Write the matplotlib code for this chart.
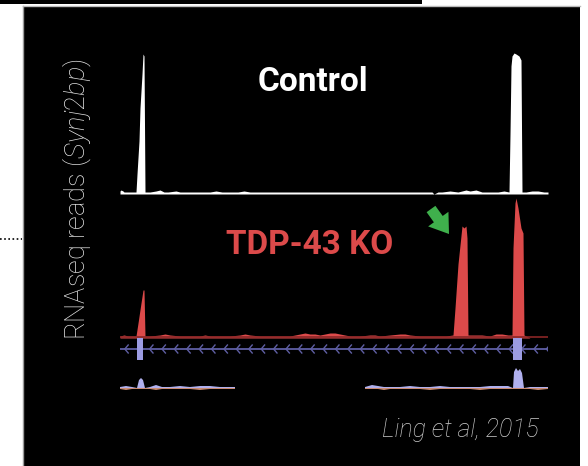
import numpy as np
import matplotlib
matplotlib.use('Agg')
import matplotlib.pyplot as plt
from matplotlib.patches import Rectangle
from matplotlib.lines import Line2D

plt.rcParams['font.family'] = ['Roboto', 'DejaVu Sans']
plt.rcParams['mathtext.fontset'] = 'custom'
plt.rcParams['mathtext.it'] = 'Roboto:italic:light'
plt.rcParams['mathtext.rm'] = 'Roboto:light'

# --- data (position along the locus, arbitrary units 0-428; coverage in track units) ---
ctrl_pos = [0, 1, 3, 4, 6, 10, 16, 17, 19, 20, 22, 23, 24, 25, 30, 36, 40, 44, 48, 56, 60,
            70, 74, 80, 90, 96, 102, 110, 118, 124, 130, 138, 150, 160, 170, 180, 190,
            200, 210, 220, 232, 240, 250, 262, 270, 280, 290, 300, 308, 312, 314, 318,
            322, 330, 338, 342, 346, 350, 356, 362, 370, 378, 384, 389, 390, 391, 392,
            394, 396, 399, 401, 402, 406, 412, 418, 424, 428]
ctrl_cov = [3, 4, 3, 2, 2, 2, 2, 20, 53, 86, 120, 140, 138, 2, 2, 3, 4, 2, 2, 3, 2,
            2, 2, 2, 2, 3, 2, 2, 2, 3, 2, 2, 2, 2, 2, 2, 2,
            2, 2, 2, 2, 2, 2, 2, 2, 2, 2, 2, 2, 2, 0, 2,
            2, 3, 2, 3, 4, 3, 4, 2, 2, 2, 3, 2, 60, 128, 138,
            141, 140, 138, 134, 2, 2, 3, 3, 2, 2]

ko_pos = [0, 4, 8, 12, 16, 18, 21, 23, 24, 25, 30, 40, 45, 50, 60, 70, 80, 85, 90, 100,
          110, 120, 125, 130, 140, 150, 160, 170, 180, 185, 190, 195, 200, 210, 215,
          220, 230, 240, 250, 255, 260, 270, 280, 285, 290, 300, 310, 320, 326, 333,
          335, 338, 342, 344, 346, 347, 348, 355, 362, 370, 376, 382, 388, 392, 393,
          395, 396, 398, 401, 403, 404, 410, 420, 428]
ko_cov = [2, 3, 2, 2, 2, 15, 35, 48, 48, 2, 2, 3, 4, 3, 2, 2, 2, 3, 2, 2,
          2, 3, 4, 3, 2, 2, 2, 2, 4, 5, 4, 4, 3, 5, 5,
          4, 2, 2, 3, 3, 2, 3, 4, 4, 3, 2, 2, 2, 2, 3,
          30, 74, 112, 110, 112, 100, 3, 3, 3, 2, 4, 4, 3, 3, 90,
          135, 140, 130, 110, 105, 3, 0, 0, 0]

exon_starts = [17, 393]
exon_ends = [23, 402]

bot_pos = [0, 6, 12, 17, 19, 21, 23, 25, 30, 36, 42, 50, 60, 70, 80, 90, 100, 108, 115,
           116, 244, 245, 252, 258, 264, 270, 280, 290, 300, 310, 320, 330, 340, 350,
           360, 370, 380, 388, 393, 394, 396, 398, 400, 402, 404, 410, 418, 428]
bot_cov = [1, 2, 1, 0, 8, 10, 8, 0, 1, 3, 1, 1, 2, 1, 2, 2, 1, 1, 1,
           np.nan, np.nan, 1, 3, 2, 1, 1, 1, 2, 1, 1, 2, 1, 1, 1,
           1, 2, 2, 2, 0, 16, 20, 17, 19, 15, 0, 1, 1, 1]
bot_neg = [-1, -2, -1, -1, -1, -1, -1, -1, -1, -2, -1, -1, -1, -1, -2, -1, -1, -1, -1,
           np.nan, np.nan, -1, -1, -1, -2, -1, -1, -1, -1, -2, -1, -1, -1, -1,
           -2, -1, -1, -1, -1, -1, -1, -1, -1, -1, -1, -1, -2, -1]

W, H = 588, 466
fig = plt.figure(figsize=(W / 100, H / 100), dpi=100, facecolor='white')

def fx(px):
    return px / W

def fy(py):
    return 1 - py / H

# black slide panel + decorations
fig.patches.append(Rectangle((fx(23), 0), fx(580) - fx(23), fy(6), transform=fig.transFigure,
                             facecolor='black', edgecolor='none', zorder=-10))
fig.lines.append(Line2D([fx(23), fx(23)], [0, fy(6)], transform=fig.transFigure,
                        color='#9a9a9a', lw=1, zorder=-5))
fig.lines.append(Line2D([fx(23), fx(580)], [fy(6), fy(6)], transform=fig.transFigure,
                        color='#bbbbbb', lw=1, zorder=-5))
fig.patches.append(Rectangle((0, fy(4)), fx(422), 1 - fy(4), transform=fig.transFigure,
                             facecolor='black', edgecolor='none', zorder=-5))
fig.lines.append(Line2D([0, fx(22)], [fy(239), fy(239)], transform=fig.transFigure,
                        color='black', lw=1.2, ls=(0, (1, 1.5)), zorder=-5))

x0, x1 = fx(120), fx(548)
xw = x1 - x0
red = '#dc4a4a'

# Control track
ax_c = fig.add_axes([x0, fy(194), xw, fy(52) - fy(194)])
ax_c.fill_between(ctrl_pos, 0, ctrl_cov, color='white', lw=0)
ax_c.set_ylim(0, 142)

# TDP-43 KO track
ax_k = fig.add_axes([x0, fy(338), xw, fy(196) - fy(338)])
ax_k.axhline(0.8, color='#8a2626', lw=1.2)
ax_k.fill_between(ko_pos, 0, ko_cov, color=red, lw=0)
ax_k.set_ylim(0, 142)
ax_k.annotate('', xy=(329, 104), xytext=(311, 129),
              arrowprops=dict(arrowstyle='simple,head_width=1.5,head_length=1.1,tail_width=0.65',
                              color='#3fb04c', lw=0, mutation_scale=12,
                              shrinkA=0, shrinkB=0))

# gene model
ax_g = fig.add_axes([x0, fy(362), xw, fy(336) - fy(362)])
ax_g.axhline(13, color='#5f5fa4', lw=1.3)
chev = np.arange(6, 428, 12.4)
for c in chev:
    ax_g.plot([c + 2.2, c - 1.2, c + 2.2], [17, 13, 9], color='#5f5fa4', lw=1)
for s, e in zip(exon_starts, exon_ends):
    ax_g.add_patch(Rectangle((s, 2), e - s, 22, facecolor='#9c9ce2', edgecolor='none', zorder=3))
ax_g.set_ylim(0, 26)

# bottom track
ax_b = fig.add_axes([x0, fy(395), xw, fy(365) - fy(395)])
ax_b.fill_between(bot_pos, 0, bot_neg, color='#c98a72', lw=0)
ax_b.fill_between(bot_pos, 0, bot_cov, color='#b0b0ee', lw=0)
ax_b.set_ylim(-7, 23)

for ax in (ax_c, ax_k, ax_g, ax_b):
    ax.set_xlim(0, 428)
    ax.axis('off')
    ax.patch.set_alpha(0)

fig.text(fx(313), fy(82), 'Control', color='white', fontsize=24, fontweight='bold',
         ha='center', va='center')
fig.text(fx(310), fy(245), 'TDP-43 KO', color=red, fontsize=24, fontweight='bold',
         ha='center', va='center')
fig.text(fx(77), fy(199), 'RNAseq reads ($\\mathit{Synj2bp}$)', color='#e6e6e6', fontsize=19.5,
         fontweight='light', rotation=90, ha='center', va='center')
fig.text(fx(460), fy(430), 'Ling et al, 2015', color='#cccccc', fontsize=18,
         fontweight='light', style='italic', ha='center', va='center')

fig.savefig('out.png', dpi=100, facecolor='white')
